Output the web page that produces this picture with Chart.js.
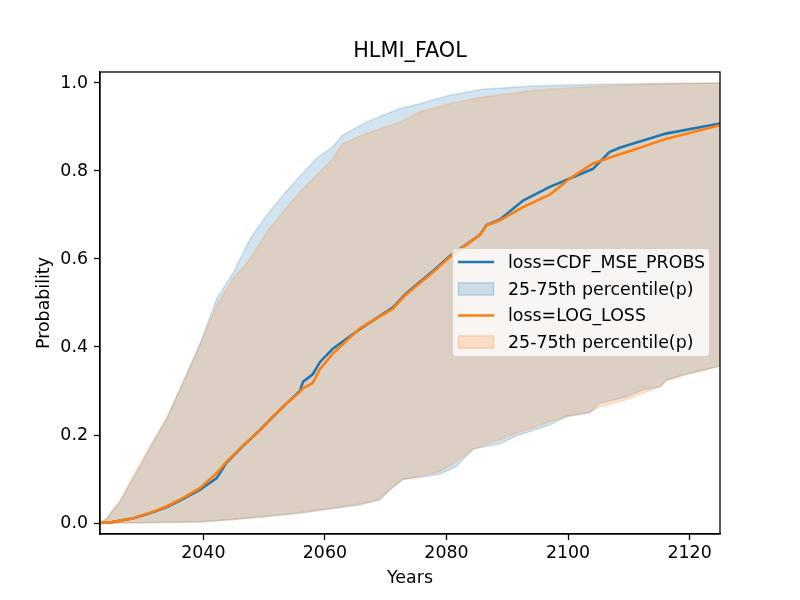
<!DOCTYPE html>
<html>
<head>
<meta charset="utf-8">
<script src="https://cdn.jsdelivr.net/npm/chart.js@4.4.1/dist/chart.umd.min.js"></script>
<style>
  html, body { margin: 0; padding: 0; background: #fff; }
  canvas { display: block; }
</style>
</head>
<body>
<canvas id="c" width="800" height="600"></canvas>
<script>
// ---- data ----
const chartTitle = 'HLMI_FAOL';
const xTitle = 'Years';
const yTitle = 'Probability';
const xTicks = [2040, 2060, 2080, 2100, 2120];
const yTicks = [0.0, 0.2, 0.4, 0.6, 0.8, 1.0];

const medYears = [2023, 2025, 2028.5, 2031.2, 2034.0, 2036.7, 2039.4, 2042.2, 2043.8, 2046.6, 2049.3, 2051.5, 2053.7, 2055.9, 2056.4, 2058.0, 2059.2, 2061.3, 2065.7, 2071.2, 2073.4, 2077.8, 2080.5, 2085.5, 2086.6, 2088.8, 2092.6, 2097.0, 2100.3, 2104.1, 2106.8, 2108.5, 2110.6, 2116.1, 2125];
const cdfMedian = [0, 0.002, 0.011, 0.022, 0.036, 0.055, 0.075, 0.102, 0.137, 0.176, 0.211, 0.242, 0.272, 0.300, 0.321, 0.338, 0.366, 0.396, 0.440, 0.490, 0.522, 0.573, 0.606, 0.655, 0.677, 0.690, 0.733, 0.764, 0.783, 0.805, 0.843, 0.853, 0.862, 0.885, 0.908];
const logMedian = [0, 0.002, 0.011, 0.023, 0.038, 0.057, 0.079, 0.113, 0.139, 0.177, 0.211, 0.243, 0.272, 0.298, 0.306, 0.318, 0.350, 0.385, 0.442, 0.487, 0.520, 0.570, 0.604, 0.655, 0.676, 0.688, 0.718, 0.746, 0.783, 0.817, 0.830, 0.838, 0.847, 0.873, 0.904];

const upYears = [2023, 2024, 2026.3, 2031.2, 2034.0, 2036.2, 2039.4, 2042.2, 2044.9, 2047.7, 2050.4, 2053.1, 2055.9, 2058.6, 2061.3, 2062.9, 2066.8, 2072.3, 2075.6, 2080.5, 2086.0, 2094.2, 2105.2, 2115, 2125];
const cdfUpper = [0, 0.008, 0.048, 0.169, 0.237, 0.305, 0.405, 0.510, 0.568, 0.646, 0.699, 0.745, 0.788, 0.828, 0.855, 0.881, 0.911, 0.942, 0.953, 0.972, 0.986, 0.993, 0.997, 0.999, 1.0];
const logUpper = [0, 0.010, 0.052, 0.175, 0.240, 0.305, 0.403, 0.495, 0.555, 0.600, 0.661, 0.707, 0.752, 0.790, 0.828, 0.862, 0.885, 0.911, 0.934, 0.953, 0.968, 0.983, 0.993, 0.998, 1.0];

const lowYears = [2023, 2030, 2039.4, 2044.9, 2050, 2055.9, 2061.3, 2065.7, 2069.0, 2070.7, 2072.8, 2075.6, 2078.9, 2081.6, 2084.4, 2088.8, 2091.5, 2097.0, 2099.7, 2103.6, 2105.2, 2109.6, 2112.3, 2115.2, 2116.1, 2118.9, 2125];
const cdfLower = [0, 0.0005, 0.002, 0.008, 0.014, 0.022, 0.033, 0.041, 0.052, 0.075, 0.099, 0.104, 0.111, 0.128, 0.168, 0.180, 0.198, 0.223, 0.242, 0.250, 0.272, 0.287, 0.302, 0.310, 0.325, 0.336, 0.357];
const logLower = [0, 0.0005, 0.003, 0.008, 0.015, 0.024, 0.034, 0.043, 0.054, 0.077, 0.099, 0.106, 0.117, 0.139, 0.168, 0.189, 0.204, 0.230, 0.242, 0.253, 0.264, 0.280, 0.295, 0.310, 0.322, 0.336, 0.357];

const legendLabels = ['loss=CDF_MSE_PROBS', '25-75th percentile(p)', 'loss=LOG_LOSS', '25-75th percentile(p)'];

// ---- styles ----
const BLUE = 'rgb(31,119,180)';
const BLUE_A = 'rgba(31,119,180,0.2)';
const ORANGE = 'rgb(255,127,14)';
const ORANGE_A = 'rgba(255,127,14,0.2)';
const FONT = "'DejaVu Sans', sans-serif";
const FS = 17.4;     // 10pt scaled
const TFS = 20.8;    // 12pt scaled

const pts = (xs, ys) => xs.map((x, i) => ({ x: x, y: ys[i] }));

const frame = {
  id: 'frame',
  afterDatasetsDraw(chart) {
    const a = chart.chartArea, ctx = chart.ctx;
    ctx.save();
    ctx.strokeStyle = '#000';
    ctx.lineWidth = 1.3;
    ctx.strokeRect(a.left, a.top, a.right - a.left, a.bottom - a.top);
    ctx.restore();
  }
};

const legendBox = {
  id: 'legendBox',
  afterDraw(chart) {
    const ctx = chart.ctx;
    const x0 = 452.5, y0 = 248.5, w = 257, h = 108, r = 3;
    ctx.save();
    ctx.beginPath();
    ctx.moveTo(x0 + r, y0);
    ctx.lineTo(x0 + w - r, y0);
    ctx.arcTo(x0 + w, y0, x0 + w, y0 + r, r);
    ctx.lineTo(x0 + w, y0 + h - r);
    ctx.arcTo(x0 + w, y0 + h, x0 + w - r, y0 + h, r);
    ctx.lineTo(x0 + r, y0 + h);
    ctx.arcTo(x0, y0 + h, x0, y0 + h - r, r);
    ctx.lineTo(x0, y0 + r);
    ctx.arcTo(x0, y0, x0 + r, y0, r);
    ctx.closePath();
    ctx.fillStyle = 'rgba(255,255,255,0.8)';
    ctx.fill();
    ctx.strokeStyle = 'rgba(204,204,204,0.8)';
    ctx.lineWidth = 1.2;
    ctx.stroke();

    const rows = [262, 289, 315.5, 342];
    const kinds = ['line', 'patch', 'line', 'patch'];
    const cols = [BLUE, BLUE_A, ORANGE, ORANGE_A];
    for (let i = 0; i < 4; i++) {
      const y = rows[i];
      if (kinds[i] === 'line') {
        ctx.strokeStyle = cols[i];
        ctx.lineWidth = 2.6;
        ctx.beginPath();
        ctx.moveTo(458, y);
        ctx.lineTo(494, y);
        ctx.stroke();
      } else {
        ctx.fillStyle = cols[i];
        ctx.fillRect(458, y - 6.5, 36, 13);
        ctx.strokeStyle = cols[i];
        ctx.lineWidth = 1.5;
        ctx.strokeRect(458.5, y - 6, 35, 12);
      }
      ctx.fillStyle = '#000';
      ctx.font = FS + 'px ' + FONT;
      ctx.textBaseline = 'middle';
      ctx.textAlign = 'left';
      ctx.fillText(legendLabels[i], 508, y + 1);
    }
    ctx.restore();
  }
};

Chart.defaults.color = '#000';
Chart.defaults.font.family = FONT;

new Chart(document.getElementById('c'), {
  type: 'line',
  data: {
    datasets: [
      { label: 'cdfUpper', data: pts(upYears, cdfUpper), borderColor: BLUE_A, borderWidth: 1.5, backgroundColor: BLUE_A, fill: false, pointRadius: 0, order: 6 },
      { label: 'cdfLower', data: pts(lowYears, cdfLower), borderColor: BLUE_A, borderWidth: 1.5, backgroundColor: BLUE_A, fill: 0, pointRadius: 0, order: 6 },
      { label: legendLabels[0], data: pts(medYears, cdfMedian), borderColor: BLUE, borderWidth: 2.6, fill: false, pointRadius: 0, order: 4 },
      { label: 'logUpper', data: pts(upYears, logUpper), borderColor: ORANGE_A, borderWidth: 1.5, backgroundColor: ORANGE_A, fill: false, pointRadius: 0, order: 5 },
      { label: 'logLower', data: pts(lowYears, logLower), borderColor: ORANGE_A, borderWidth: 1.5, backgroundColor: ORANGE_A, fill: 3, pointRadius: 0, order: 5 },
      { label: legendLabels[2], data: pts(medYears, logMedian), borderColor: ORANGE, borderWidth: 2.6, fill: false, pointRadius: 0, order: 3 }
    ]
  },
  options: {
    responsive: false,
    animation: false,
    devicePixelRatio: 1,
    layout: { padding: { left: 0, right: 80, top: 0, bottom: 0 } },
    plugins: {
      legend: { display: false },
      tooltip: { enabled: false },
      title: {
        display: true,
        text: chartTitle,
        fullSize: false,
        color: '#000',
        font: { size: TFS, weight: 'normal', family: FONT, lineHeight: 1.2 },
        padding: { top: 39, bottom: 8.04 }
      }
    },
    scales: {
      x: {
        type: 'linear',
        min: 2023,
        max: 2125,
        afterBuildTicks(scale) { scale.ticks = xTicks.map(v => ({ value: v })); },
        afterFit(scale) { scale.height = 66; },
        ticks: { callback: v => String(v), font: { size: FS, family: FONT }, color: '#000', padding: 3, maxRotation: 0 },
        grid: { drawOnChartArea: false, drawTicks: true, tickLength: 6, color: '#000', tickWidth: 1.3 },
        border: { display: true, color: '#000', width: 1.3 },
        title: { display: true, text: xTitle, color: '#000', font: { size: FS, family: FONT }, padding: { top: 4, bottom: 11.5 } }
      },
      y: {
        type: 'linear',
        min: -0.025,
        max: 1.025,
        afterBuildTicks(scale) { scale.ticks = yTicks.map(v => ({ value: v })); },
        afterFit(scale) { scale.width = 100; },
        ticks: { callback: v => v.toFixed(1), font: { size: FS, family: FONT }, color: '#000', padding: 6 },
        grid: { drawOnChartArea: false, drawTicks: true, tickLength: 6, color: '#000', tickWidth: 1.3 },
        border: { display: true, color: '#000', width: 1.3 },
        title: { display: true, text: yTitle, color: '#000', font: { size: FS, family: FONT }, padding: { top: 34.5, bottom: 0 } }
      }
    }
  },
  plugins: [frame, legendBox]
});
</script>
</body>
</html>
